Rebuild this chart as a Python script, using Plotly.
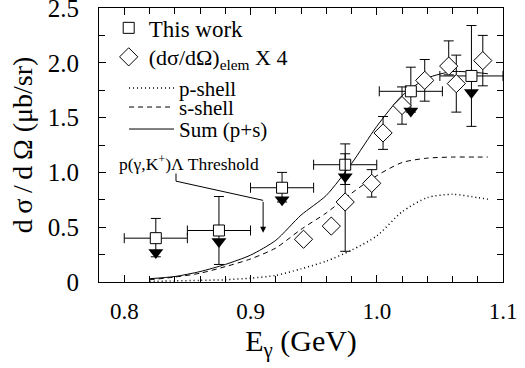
import plotly.graph_objects as go

# ---- data ----
# "This work" (open squares) with x/y errors
sq_E = [0.825, 0.875, 0.925, 0.975, 1.027, 1.075]
sq_y = [0.40, 0.47, 0.86, 1.07, 1.74, 1.88]
sq_xerr = [0.025, 0.025, 0.025, 0.025, 0.025, 0.025]
sq_yerr_plus = [0.18, 0.31, 0.14, 0.19, 0.22, 0.46]
sq_yerr_minus = [0.17, 0.31, 0.13, 0.18, 0.19, 0.46]

# filled down-triangles below the squares
tri_y = [0.27, 0.37, 0.75, 0.96, 1.56, 1.73]

# (dsigma/dOmega)_elem x 4 (open diamonds)
dm_E = [0.942, 0.964, 0.975, 0.996, 1.005, 1.020, 1.038, 1.057, 1.063, 1.084]
dm_y = [0.39, 0.51, 0.73, 0.90, 1.36, 1.61, 1.84, 1.97, 1.81, 2.02]
dm_err_plus = [0, 0, 0.44, 0.125, 0.15, 0.17, 0.19, 0.23, 0.26, 0.23]
dm_err_minus = [0, 0, 0.45, 0.125, 0.15, 0.17, 0.19, 0.08, 0.26, 0.23]

# model curves
curve_E = [0.82, 0.84, 0.86, 0.88, 0.90, 0.92, 0.94, 0.96, 0.98, 1.00, 1.02, 1.04, 1.06, 1.08, 1.088]
p_shell = [0.005, 0.01, 0.015, 0.02, 0.035, 0.06, 0.12, 0.19, 0.29, 0.42, 0.64, 0.77, 0.80, 0.77, 0.755]
s_shell = [0.02, 0.045, 0.08, 0.14, 0.21, 0.31, 0.48, 0.63, 0.81, 0.97, 1.09, 1.13, 1.14, 1.14, 1.14]
sum_ps = [0.03, 0.05, 0.095, 0.16, 0.245, 0.38, 0.61, 0.79, 1.08, 1.42, 1.70, 1.86, 1.92, 1.91, 1.90]

# threshold pointer
thr_E = 0.910
thr_label_E, thr_label_y = 0.851, 1.085
ptr_E = [0.841, 0.841, thr_E]
ptr_y = [0.99, 0.92, 0.745]
thr_tip_y = 0.45

x_ticks = [0.8, 0.9, 1.0, 1.1]
x_ticklabels = ["0.8", "0.9", "1.0", "1.1"]
y_ticks = [0, 0.5, 1.0, 1.5, 2.0, 2.5]
y_ticklabels = ["0", "0.5", "1.0", "1.5", "2.0", "2.5"]

FONT = "Liberation Serif"
BLK = "black"
TS = "\u2009"  # thin space (the reference title is letter-spaced)

fig = go.Figure()

fig.add_trace(go.Scatter(x=curve_E, y=p_shell, mode="lines", name="p-shell",
                         line=dict(color=BLK, width=1.5, dash="1px,3px", shape="spline", smoothing=0.7),
                         legend="legend3"))
fig.add_trace(go.Scatter(x=curve_E, y=s_shell, mode="lines", name="s-shell",
                         line=dict(color=BLK, width=1, dash="5px,4px", shape="spline", smoothing=0.7),
                         legend="legend4"))
fig.add_trace(go.Scatter(x=curve_E, y=sum_ps, mode="lines", name="Sum (p+s)",
                         line=dict(color=BLK, width=1, shape="spline", smoothing=0.7),
                         legend="legend5"))

fig.add_trace(go.Scatter(x=ptr_E, y=ptr_y, mode="lines", showlegend=False,
                         line=dict(color=BLK, width=1), hoverinfo="skip"))

fig.add_trace(go.Scatter(
    x=sq_E, y=sq_y, mode="markers", name="This work",
    marker=dict(symbol="square", size=11, color="white", line=dict(color=BLK, width=1)),
    error_x=dict(type="data", array=sq_xerr, color=BLK, thickness=1, width=5),
    error_y=dict(type="data", array=sq_yerr_plus, arrayminus=sq_yerr_minus, symmetric=False,
                 color=BLK, thickness=1, width=5),
    legend="legend"))

fig.add_trace(go.Scatter(
    x=dm_E, y=dm_y, mode="markers", name="(dσ/dΩ)<sub>elem</sub> X 4",
    marker=dict(symbol="diamond", size=14, color="white", line=dict(color=BLK, width=1)),
    error_y=dict(type="data", array=dm_err_plus, arrayminus=dm_err_minus, symmetric=False,
                 color=BLK, thickness=1, width=5),
    legend="legend2"))

fig.add_trace(go.Scatter(x=sq_E, y=tri_y, mode="markers", showlegend=False,
                         marker=dict(symbol="triangle-down", size=13, color=BLK)))

fig.add_annotation(x=thr_E, y=thr_tip_y, ax=thr_E, ay=ptr_y[-1], xref="x", yref="y",
                   axref="x", ayref="y", text="", showarrow=True, arrowhead=2,
                   arrowsize=1.2, arrowwidth=1, arrowcolor=BLK)
fig.add_annotation(x=thr_label_E, y=thr_label_y, xref="x", yref="y",
                   text="p(γ,K<sup>+</sup>)Λ Threshold", showarrow=False,
                   font=dict(family=FONT, size=17.5, color=BLK))

axis_common = dict(showline=True, linecolor=BLK, linewidth=1, mirror="ticks",
                   ticks="inside", tickcolor=BLK, showgrid=False, zeroline=False,
                   automargin=False, ticklabeloverflow="allow")

fig.update_xaxes(range=[0.78, 1.1], tickvals=x_ticks, ticktext=x_ticklabels, ticklen=7,
                 tickfont=dict(family=FONT, size=23, color=BLK), ticklabelstandoff=8,
                 minor=dict(dtick=0.02, tick0=0.8, ticks="inside", ticklen=6, tickcolor=BLK),
                 title=dict(text="E<sub>γ</sub> (GeV)", font=dict(family=FONT, size=30, color=BLK),
                            standoff=1),
                 **axis_common)
fig.update_yaxes(range=[0, 2.5], tickvals=y_ticks, ticktext=y_ticklabels, ticklen=7,
                 tickfont=dict(family=FONT, size=25, color=BLK), ticklabelstandoff=14,
                 minor=dict(dtick=0.25, tick0=0, ticks="inside", ticklen=6, tickcolor=BLK),
                 title=dict(text=f"d{TS}σ{TS}/{TS}d{TS}Ω (μb/sr)",
                            font=dict(family=FONT, size=28, color=BLK), standoff=6),
                 **axis_common)

leg_common = dict(xanchor="left", yanchor="middle", bgcolor="rgba(0,0,0,0)")
fig.update_layout(
    width=525, height=368,
    margin=dict(l=99, r=22, t=7, b=86),
    paper_bgcolor="white", plot_bgcolor="white",
    font=dict(family=FONT, color=BLK),
    legend=dict(x=0.024, y=0.924, font=dict(family=FONT, size=23, color=BLK), **leg_common),
    legend2=dict(x=0.024, y=0.818, font=dict(family=FONT, size=22, color=BLK), **leg_common),
    legend3=dict(x=0.062, y=0.704, itemwidth=45, font=dict(family=FONT, size=21, color=BLK), **leg_common),
    legend4=dict(x=0.062, y=0.635, itemwidth=45, font=dict(family=FONT, size=21, color=BLK), **leg_common),
    legend5=dict(x=0.062, y=0.555, itemwidth=45, font=dict(family=FONT, size=21, color=BLK), **leg_common),
)

# remove the browser's default 8px body margin so the figure fills the window
fig.write_html("out.html", config={"displayModeBar": False},
               post_script="document.body.style.margin='0';")
